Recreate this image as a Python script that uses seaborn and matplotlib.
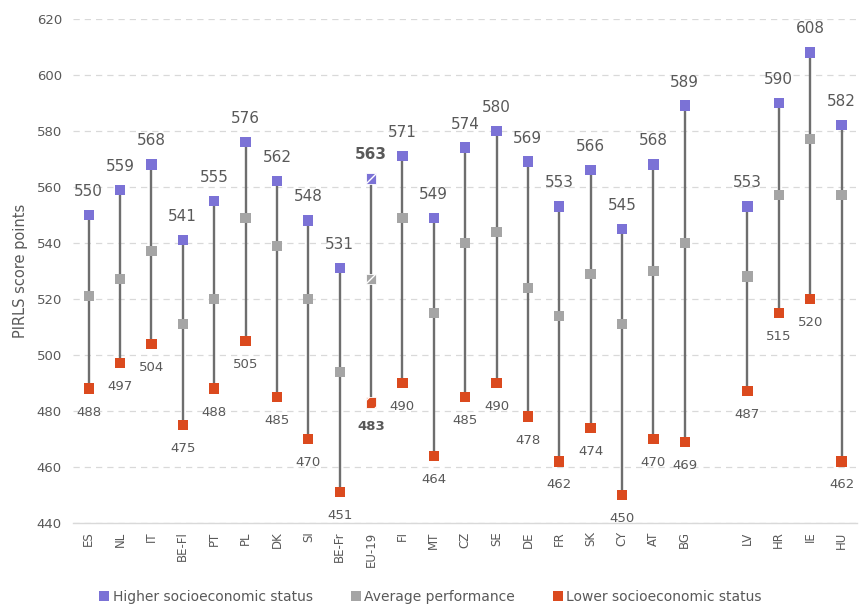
import matplotlib
matplotlib.use("Agg")
import matplotlib.pyplot as plt
import seaborn as sns
import pandas as pd
import numpy as np

countries = ["ES", "NL", "IT", "BE-Fl", "PT", "PL", "DK", "SI", "BE-Fr", "EU-19",
             "FI", "MT", "CZ", "SE", "DE", "FR", "SK", "CY", "AT", "BG",
             "LV", "HR", "IE", "HU"]
higher = [550, 559, 568, 541, 555, 576, 562, 548, 531, 563,
          571, 549, 574, 580, 569, 553, 566, 545, 568, 589,
          553, 590, 608, 582]
average = [521, 527, 537, 511, 520, 549, 539, 520, 494, 527,
           549, 515, 540, 544, 524, 514, 529, 511, 530, 540,
           528, 557, 577, 557]
lower = [488, 497, 504, 475, 488, 505, 485, 470, 451, 483,
         490, 464, 485, 490, 478, 462, 474, 450, 470, 469,
         487, 515, 520, 462]

series_names = ["Higher socioeconomic status", "Average performance", "Lower socioeconomic status"]
colors = {"Higher socioeconomic status": "#7B72D6",
          "Average performance": "#A5A5A5",
          "Lower socioeconomic status": "#DB4A1E"}

# slot positions: empty slot between BG and LV
pos = list(range(20)) + [21, 22, 23, 24]

sns.set_theme(style="white")
plt.rcParams['font.family'] = ['DejaVu Sans']

df = pd.DataFrame({"country": countries, "x": pos,
                   series_names[0]: higher, series_names[1]: average, series_names[2]: lower})
long = df.melt(id_vars=["country", "x"], value_vars=series_names, var_name="series", value_name="score")

fig = plt.figure(figsize=(8.59, 6.06), dpi=100)
ax = fig.add_axes([0.085, 0.137, 0.913, 0.832])

txt = "#595959"

# connecting lines
ax.vlines(df["x"], df[series_names[2]], df[series_names[0]], color="#6E6E6E", lw=1.7, zorder=2)

eu = long["country"] == "EU-19"
sns.scatterplot(data=long[~eu], x="x", y="score", hue="series", hue_order=series_names,
                palette=colors, marker="s", s=55, linewidth=0, ax=ax, zorder=3, legend=False)
for name in series_names:
    row = long[eu & (long["series"] == name)]
    ax.scatter(row["x"], row["score"], marker="s", s=55, color=colors[name],
               edgecolor="white", linewidth=0.6, hatch="//", zorder=3)

# data labels
for _, r in df.iterrows():
    bold = "bold" if r["country"] == "EU-19" else "normal"
    ax.annotate(f"{r[series_names[0]]}", (r["x"], r[series_names[0]]), xytext=(0, 17),
                textcoords="offset points", ha="center", va="center", fontsize=11,
                color=txt, fontweight=bold, zorder=4)
    ax.annotate(f"{r[series_names[2]]}", (r["x"], r[series_names[2]]), xytext=(0, -17),
                textcoords="offset points", ha="center", va="center", fontsize=9.5,
                color=txt, fontweight=bold, zorder=4)

ax.set_xlim(-0.5, 24.5)
ax.set_ylim(440, 620)
ax.set_yticks(np.arange(440, 621, 20))
ax.set_xticks(pos)
ax.set_xticklabels(countries, rotation=90, fontsize=8.5, color=txt)
ax.tick_params(axis="y", labelsize=9.5, colors=txt, length=0, pad=8)
ax.tick_params(axis="x", length=0, pad=6)
ax.yaxis.grid(True, linestyle=(0, (5, 4)), color="#D9D9D9", lw=0.9)
ax.set_axisbelow(True)
for s in ["top", "right", "left"]:
    ax.spines[s].set_visible(False)
ax.spines["bottom"].set_color("#D9D9D9")
ax.spines["bottom"].set_linewidth(1.0)
ax.set_xlabel("")
ax.set_ylabel("PIRLS score points", fontsize=10.5, color=txt, labelpad=6)

handles = [plt.Line2D([], [], marker="s", linestyle="none", markersize=7.5,
                      markerfacecolor=colors[n], markeredgewidth=0) for n in series_names]
fig.legend(handles, series_names, loc="center", bbox_to_anchor=(0.5, 0.015), ncol=3,
           frameon=False, fontsize=10, labelcolor=txt, handletextpad=0.1,
           columnspacing=2.6, handlelength=1.0, borderaxespad=0)

fig.savefig("out.png", dpi=100)
